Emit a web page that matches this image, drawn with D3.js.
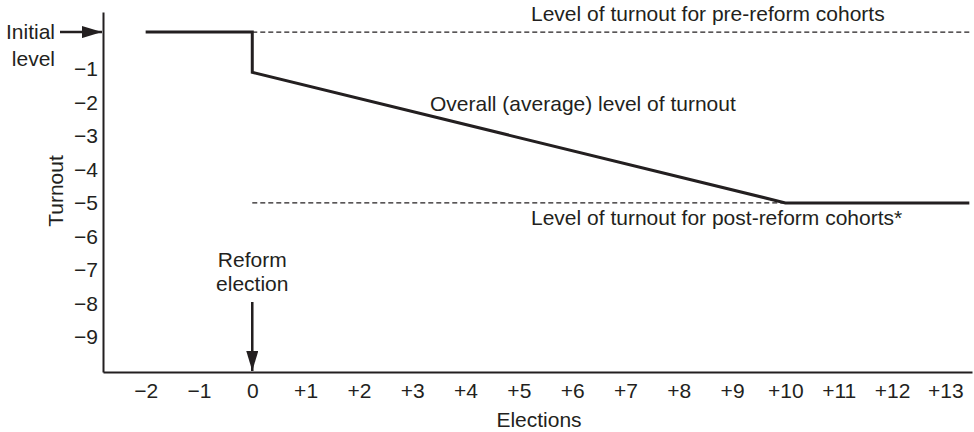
<!DOCTYPE html>
<html>
<head>
<meta charset="utf-8">
<script src="https://cdn.jsdelivr.net/npm/d3@7"></script>
<style>
  body { margin: 0; background: #fff; }
  svg text { font-family: "Liberation Sans", Arial, sans-serif; fill: #231f20; }
</style>
</head>
<body>
<div id="chart"></div>
<script>
// data
const electionTicks = [-2, -1, 0, 1, 2, 3, 4, 5, 6, 7, 8, 9, 10, 11, 12, 13];
const turnoutTicks = [-1, -2, -3, -4, -5, -6, -7, -8, -9];
const overallX = [-2, 0, 0, 10, 13.45];
const overallY = [0.1, 0.1, -1.1, -5, -5];
const preReformX = [0, 13.45];
const preReformY = [0.1, 0.1];
const postReformX = [0, 10];
const postReformY = [-5, -5];
const reformElection = 0;

const width = 974, height = 432;
const fs = 21;
const ink = "#231f20";

const svg = d3.select("#chart").append("svg")
    .attr("width", width)
    .attr("height", height);

const x = d3.scaleLinear().domain([-2.8, 13.5]).range([103, 972]);
const y = d3.scaleLinear().domain([-10.05, 0.7]).range([372, 12]);

const defs = svg.append("defs");
defs.append("marker")
    .attr("id", "head")
    .attr("viewBox", "0 0 20 12")
    .attr("refX", 20).attr("refY", 6)
    .attr("markerWidth", 20).attr("markerHeight", 12)
    .attr("markerUnits", "userSpaceOnUse")
    .attr("orient", "auto")
  .append("path")
    .attr("d", "M0,0L20,6L0,12Z")
    .attr("fill", ink);

// axes
const xAxis = d3.axisBottom(x)
    .tickValues(electionTicks)
    .tickSize(0).tickPadding(11)
    .tickFormat(d => d > 0 ? "+" + d : d < 0 ? "\u2212" + (-d) : "0");
const gx = svg.append("g").attr("transform", `translate(0,${y.range()[0]})`).call(xAxis);

const yAxis = d3.axisLeft(y)
    .tickValues(turnoutTicks)
    .tickSize(0).tickPadding(5)
    .tickFormat(d => "\u2212" + (-d));
const gy = svg.append("g").attr("transform", `translate(${x.range()[0]},0)`).call(yAxis);

[gx, gy].forEach(g => {
  g.select(".domain").attr("stroke", ink).attr("stroke-width", 2);
  g.selectAll("text").attr("font-size", fs).attr("fill", ink)
    .style("font-family", "'Liberation Sans', Arial, sans-serif");
});

// dashed cohort levels
const line = d3.line().x(d => x(d[0])).y(d => y(d[1]));
const dashed = (xs, ys) => svg.append("path")
    .attr("d", line(d3.zip(xs, ys)))
    .attr("fill", "none").attr("stroke", ink).attr("stroke-width", 1.3)
    .attr("stroke-dasharray", "5,3");
dashed(preReformX, preReformY);
dashed(postReformX, postReformY);

// overall turnout
svg.append("path")
    .attr("d", line(d3.zip(overallX, overallY)))
    .attr("fill", "none").attr("stroke", ink).attr("stroke-width", 3)
    .attr("stroke-linejoin", "miter");

// labels
function label(t, px, py, anchor) {
  return svg.append("text").attr("x", px).attr("y", py)
      .attr("font-size", fs).attr("text-anchor", anchor || "start").text(t);
}
label("Level of turnout for pre-reform cohorts", 531, 21);
label("Overall (average) level of turnout", 430, 111);
label("Level of turnout for post-reform cohorts*", 531, 225);

// initial level annotation
label("Initial", 55, 39, "end");
label("level", 55, 66, "end");
svg.append("line")
    .attr("x1", 60).attr("x2", x.range()[0] - 1)
    .attr("y1", y(preReformY[0])).attr("y2", y(preReformY[0]))
    .attr("stroke", ink).attr("stroke-width", 2.5)
    .attr("marker-end", "url(#head)");

// reform election annotation
label("Reform", x(reformElection), 267, "middle");
label("election", x(reformElection), 291, "middle");
svg.append("line")
    .attr("x1", x(reformElection)).attr("x2", x(reformElection))
    .attr("y1", 302).attr("y2", y.range()[0] - 1)
    .attr("stroke", ink).attr("stroke-width", 2.5)
    .attr("marker-end", "url(#head)");

// axis titles
svg.append("text")
    .attr("transform", "translate(63,191) rotate(-90)")
    .attr("font-size", fs).attr("text-anchor", "middle").text("Turnout");
label("Elections", 539, 427, "middle");
</script>
</body>
</html>
